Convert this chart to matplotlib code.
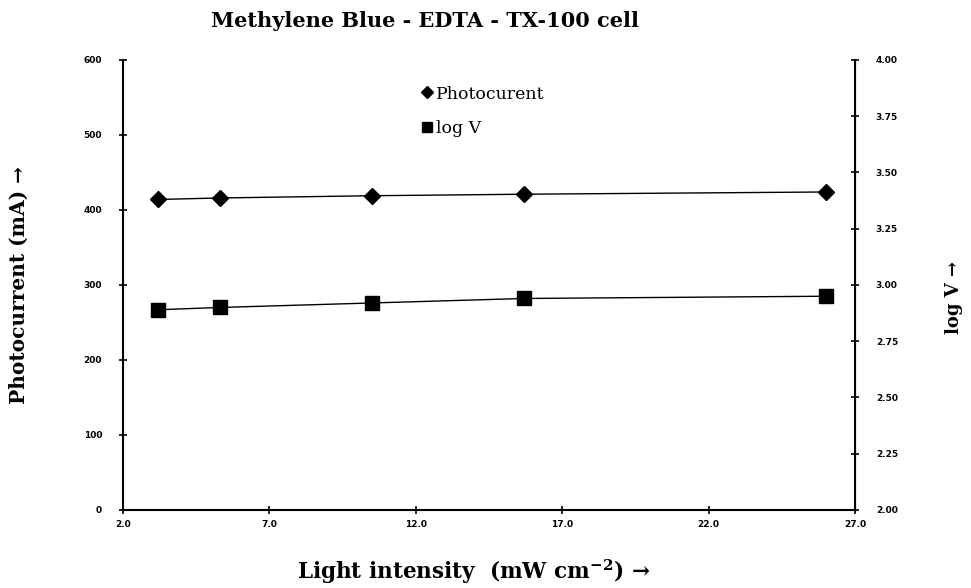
import numpy as np
import matplotlib
matplotlib.use("Agg")
import matplotlib.pyplot as plt

# data
intensity = [3.2, 5.3, 10.5, 15.7, 26.0]
photocurrent = [414, 416, 419, 421, 424]
log_v = [2.89, 2.90, 2.92, 2.94, 2.95]

x_ticks = [2.0, 7.0, 12.0, 17.0, 22.0, 27.0]
left_ticks = [0, 100, 200, 300, 400, 500, 600]
right_ticks = [2.00, 2.25, 2.50, 2.75, 3.00, 3.25, 3.50, 3.75, 4.00]

plt.rcParams['font.family'] = ['DejaVu Serif']
plt.rcParams['mathtext.fontset'] = 'custom'
plt.rcParams['mathtext.rm'] = 'DejaVu Serif'
plt.rcParams['mathtext.bf'] = 'DejaVu Serif:bold'

fig = plt.figure(figsize=(9.71, 5.88), dpi=100)
ax = fig.add_axes([0.1267, 0.1327, 0.7538, 0.7653])
ax2 = ax.twinx()

l1, = ax.plot(intensity, photocurrent, color='black', lw=1.0, marker='D',
              markersize=8, label='Photocurrent')
l2, = ax2.plot(intensity, log_v, color='black', lw=1.0, marker='s',
               markersize=10, label='log V')

ax.set_xlim(2, 27)
ax.set_ylim(0, 600)
ax2.set_ylim(2.0, 4.0)
ax.set_xticks(x_ticks)
ax.set_xticklabels(["{0:.1f}".format(v) for v in x_ticks])
ax.set_yticks(left_ticks)
ax2.set_yticks(right_ticks)
ax2.set_yticklabels(["{0:.2f}".format(v) for v in right_ticks])

for a in (ax, ax2):
    a.spines['top'].set_visible(False)
    a.tick_params(direction='inout', length=6, width=1.2, labelsize=6.5)
    for lab in a.get_xticklabels() + a.get_yticklabels():
        lab.set_fontweight('bold')
        lab.set_family('DejaVu Sans')
ax.spines['left'].set_linewidth(1.5)
ax.spines['bottom'].set_linewidth(1.5)
ax2.spines['right'].set_linewidth(1.5)
ax2.spines['left'].set_visible(False)
ax2.spines['bottom'].set_visible(False)
ax.tick_params(axis='y', pad=12)
ax2.tick_params(axis='y', pad=12)
ax.tick_params(axis='x', pad=4)

fig.text(0.4376, 0.965, "Methylene Blue - EDTA - TX-100 cell", ha='center',
         va='center', fontsize=15, fontweight='bold')
fig.text(0.488, 0.027, "Light intensity  (mW cm$^{\\mathbf{-2}}$) \u2192", ha='center',
         va='center', fontsize=15.5, fontweight='bold')
fig.text(0.019, 0.515, "Photocurrent (mA) \u2192", rotation=90, ha='center',
         va='center', fontsize=14.5, fontweight='bold')
fig.text(0.983, 0.495, "log V \u2192", rotation=90, ha='center',
         va='center', fontsize=13, fontweight='bold')

leg = ax.legend([l1, l2], ['Photocurent', 'log V'], loc='upper left',
                bbox_to_anchor=(0.388, 0.978), frameon=False, handlelength=0.5,
                handletextpad=0.25, labelspacing=1.0, markerscale=0.75,
                prop={'size': 12.5})
for h in leg.legend_handles:
    h.set_linestyle('none')

fig.savefig("out.png", dpi=100)
